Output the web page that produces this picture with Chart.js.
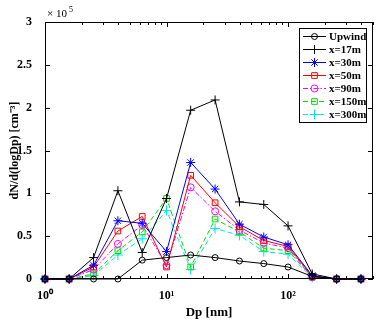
<!DOCTYPE html>
<html>
<head>
<meta charset="utf-8">
<script src="https://cdn.jsdelivr.net/npm/chart.js@4"></script>
<style>
  html, body { margin: 0; padding: 0; background: #fff; }
  #wrap { width: 389px; height: 324px; }
</style>
</head>
<body>
<div id="wrap"><canvas id="sizeChart" width="389" height="324"></canvas></div>
<script>
// particle diameter bins (nm)
const dp = [1, 1.58, 2.51, 3.98, 6.31, 10, 15.8, 25.1, 39.8, 63.1, 100, 158, 251, 398];

// dN/d(logDp) in units of 1e5 cm^-3
const upwind = [0, 0, 0, 0, 0.22, 0.25, 0.28, 0.25, 0.21, 0.18, 0.14, 0.03, 0, 0];
const x17m   = [0, 0, 0.25, 1.03, 0.31, 0.94, 1.97, 2.09, 0.90, 0.87, 0.62, 0.06, 0, 0];
const x30m   = [0, 0, 0.16, 0.68, 0.65, 0.32, 1.36, 1.05, 0.64, 0.49, 0.40, 0.04, 0, 0];
const x50m   = [0, 0, 0.14, 0.56, 0.73, 0.14, 1.21, 0.89, 0.61, 0.45, 0.38, 0.03, 0, 0];
const x90m   = [0, 0, 0.11, 0.41, 0.63, 0.16, 1.07, 0.79, 0.57, 0.42, 0.36, 0.02, 0, 0];
const x150m  = [0, 0, 0.06, 0.33, 0.55, 0.94, 0.14, 0.70, 0.55, 0.36, 0.33, 0.02, 0, 0];
const x300m  = [0, 0, 0.04, 0.28, 0.47, 0.80, 0.11, 0.59, 0.51, 0.32, 0.29, 0.02, 0, 0];

const xTicks = [];
for (let d = 1; d <= 100; d *= 10) {
  for (let m = 1; m <= 9; m++) if (d * m <= 500) xTicks.push(d * m);
}
const yTicks = [0, 0.5, 1, 1.5, 2, 2.5, 3];
const supers = { 1: '10\u2070', 10: '10\u00b9', 100: '10\u00b2' };

const FONT = '"Liberation Serif", "Times New Roman", serif';

function series(label, values, color, style, radius, dash) {
  return {
    label: label,
    data: dp.map((x, i) => ({ x: x, y: values[i] })),
    borderColor: color,
    backgroundColor: 'rgba(0,0,0,0)',
    pointBorderColor: color,
    pointBackgroundColor: 'rgba(0,0,0,0)',
    pointStyle: style,
    pointRadius: radius,
    pointBorderWidth: 1,
    borderWidth: 1,
    borderDash: dash,
    tension: 0,
    clip: false
  };
}

function drawMarker(ctx, style, r, x, y) {
  ctx.beginPath();
  if (style === 'circle') {
    ctx.arc(x, y, r, 0, Math.PI * 2);
  } else if (style === 'rect') {
    const s = r * Math.SQRT1_2;
    ctx.rect(x - s, y - s, 2 * s, 2 * s);
  } else {
    ctx.moveTo(x - r, y); ctx.lineTo(x + r, y);
    ctx.moveTo(x, y - r); ctx.lineTo(x, y + r);
    if (style === 'star') {
      const s = r * Math.SQRT1_2;
      ctx.moveTo(x - s, y - s); ctx.lineTo(x + s, y + s);
      ctx.moveTo(x - s, y + s); ctx.lineTo(x + s, y - s);
    }
  }
  ctx.stroke();
}

// matlab-like frame: inward ticks on all sides, legend, multiplier, y title
const matlabFrame = {
  id: 'matlabFrame',
  afterDraw(chart) {
    const ctx = chart.ctx;
    const a = chart.chartArea;
    const xs = chart.scales.x, ys = chart.scales.y;
    ctx.save();
    ctx.strokeStyle = '#000';
    ctx.lineWidth = 1;
    ctx.setLineDash([]);
    ctx.strokeRect(a.left + 0.5, a.top + 0.5, a.right - a.left - 1, a.bottom - a.top - 1);

    ctx.beginPath();
    xTicks.forEach(v => {
      const px = Math.round(xs.getPixelForValue(v)) + 0.5;
      const len = supers[v] ? 5 : 3;
      ctx.moveTo(px, a.bottom); ctx.lineTo(px, a.bottom - len);
      ctx.moveTo(px, a.top); ctx.lineTo(px, a.top + len);
    });
    yTicks.forEach(v => {
      const py = Math.round(ys.getPixelForValue(v)) + 0.5;
      ctx.moveTo(a.left, py); ctx.lineTo(a.left + 5, py);
      ctx.moveTo(a.right, py); ctx.lineTo(a.right - 5, py);
    });
    ctx.stroke();

    // x10^5 multiplier
    ctx.fillStyle = '#000';
    ctx.textBaseline = 'alphabetic';
    ctx.textAlign = 'left';
    ctx.font = '11px ' + FONT;
    ctx.fillText('\u00d7 10', a.left + 2, a.top - 5);
    ctx.font = '8px ' + FONT;
    ctx.fillText('5', a.left + 24, a.top - 10);

    // y title
    ctx.save();
    ctx.translate(15, (a.top + a.bottom) / 2);
    ctx.rotate(-Math.PI / 2);
    ctx.textAlign = 'center';
    ctx.textBaseline = 'middle';
    ctx.font = 'bold 12px ' + FONT;
    ctx.fillText('dN/d(logDp) [cm\u207b\u00b3]', 0, 0);
    ctx.restore();

    // legend
    const bx = 299.5, by = 28.5, bw = 67, bh = 94;
    ctx.fillStyle = '#fff';
    ctx.fillRect(bx, by, bw, bh);
    ctx.strokeStyle = '#000';
    ctx.strokeRect(bx, by, bw, bh);
    chart.data.datasets.forEach((ds, i) => {
      const y = 36.5 + i * 13;
      ctx.strokeStyle = ds.borderColor;
      ctx.setLineDash(ds.borderDash || []);
      ctx.beginPath();
      ctx.moveTo(303, y); ctx.lineTo(326, y);
      ctx.stroke();
      ctx.setLineDash([]);
      drawMarker(ctx, ds.pointStyle, ds.pointRadius, 314.5, y);
      ctx.fillStyle = '#000';
      ctx.font = 'bold 11px ' + FONT;
      ctx.textAlign = 'left';
      ctx.textBaseline = 'middle';
      ctx.fillText(ds.label, 329, y + 0.5);
    });
    ctx.restore();
  }
};

const ctx = document.getElementById('sizeChart').getContext('2d');
const sizeChart = new Chart(ctx, {
  type: 'line',
  data: {
    datasets: [
      series('Upwind', upwind, '#000000', 'circle', 3, []),
      series('x=17m', x17m, '#000000', 'cross', 4.5, []),
      series('x=30m', x30m, '#0000ff', 'star', 4.5, []),
      series('x=50m', x50m, '#ff0000', 'rect', 4, []),
      series('x=90m', x90m, '#ff00ff', 'circle', 3.5, [5, 2, 1.5, 2]),
      series('x=150m', x150m, '#00dd00', 'rect', 4, [5, 3]),
      series('x=300m', x300m, '#00e5e5', 'cross', 5, [5, 3])
    ]
  },
  options: {
    responsive: false,
    animation: false,
    layout: { padding: { top: 22, right: 16, left: 0, bottom: 0 } },
    plugins: {
      legend: { display: false },
      tooltip: { enabled: false }
    },
    scales: {
      x: {
        type: 'logarithmic',
        min: 1,
        max: 500,
        afterBuildTicks: scale => { scale.ticks = xTicks.map(v => ({ value: v })); },
        afterFit: scale => { scale.height = 45; },
        grid: { display: false },
        border: { display: false },
        ticks: {
          autoSkip: false,
          maxRotation: 0,
          padding: 2,
          color: '#000',
          font: { family: FONT, size: 12, weight: 'bold' },
          callback: v => supers[v] || ''
        },
        title: {
          display: true,
          text: 'Dp [nm]',
          color: '#000',
          padding: { top: 2 },
          font: { family: FONT, size: 13, weight: 'bold' }
        }
      },
      y: {
        min: 0,
        max: 3,
        afterBuildTicks: scale => { scale.ticks = yTicks.map(v => ({ value: v })); },
        afterFit: scale => { scale.width = 45; },
        grid: { display: false },
        border: { display: false },
        ticks: {
          padding: 5,
          color: '#000',
          font: { family: FONT, size: 12, weight: 'bold' },
          callback: v => String(v)
        }
      }
    }
  },
  plugins: [matlabFrame]
});
</script>
</body>
</html>
